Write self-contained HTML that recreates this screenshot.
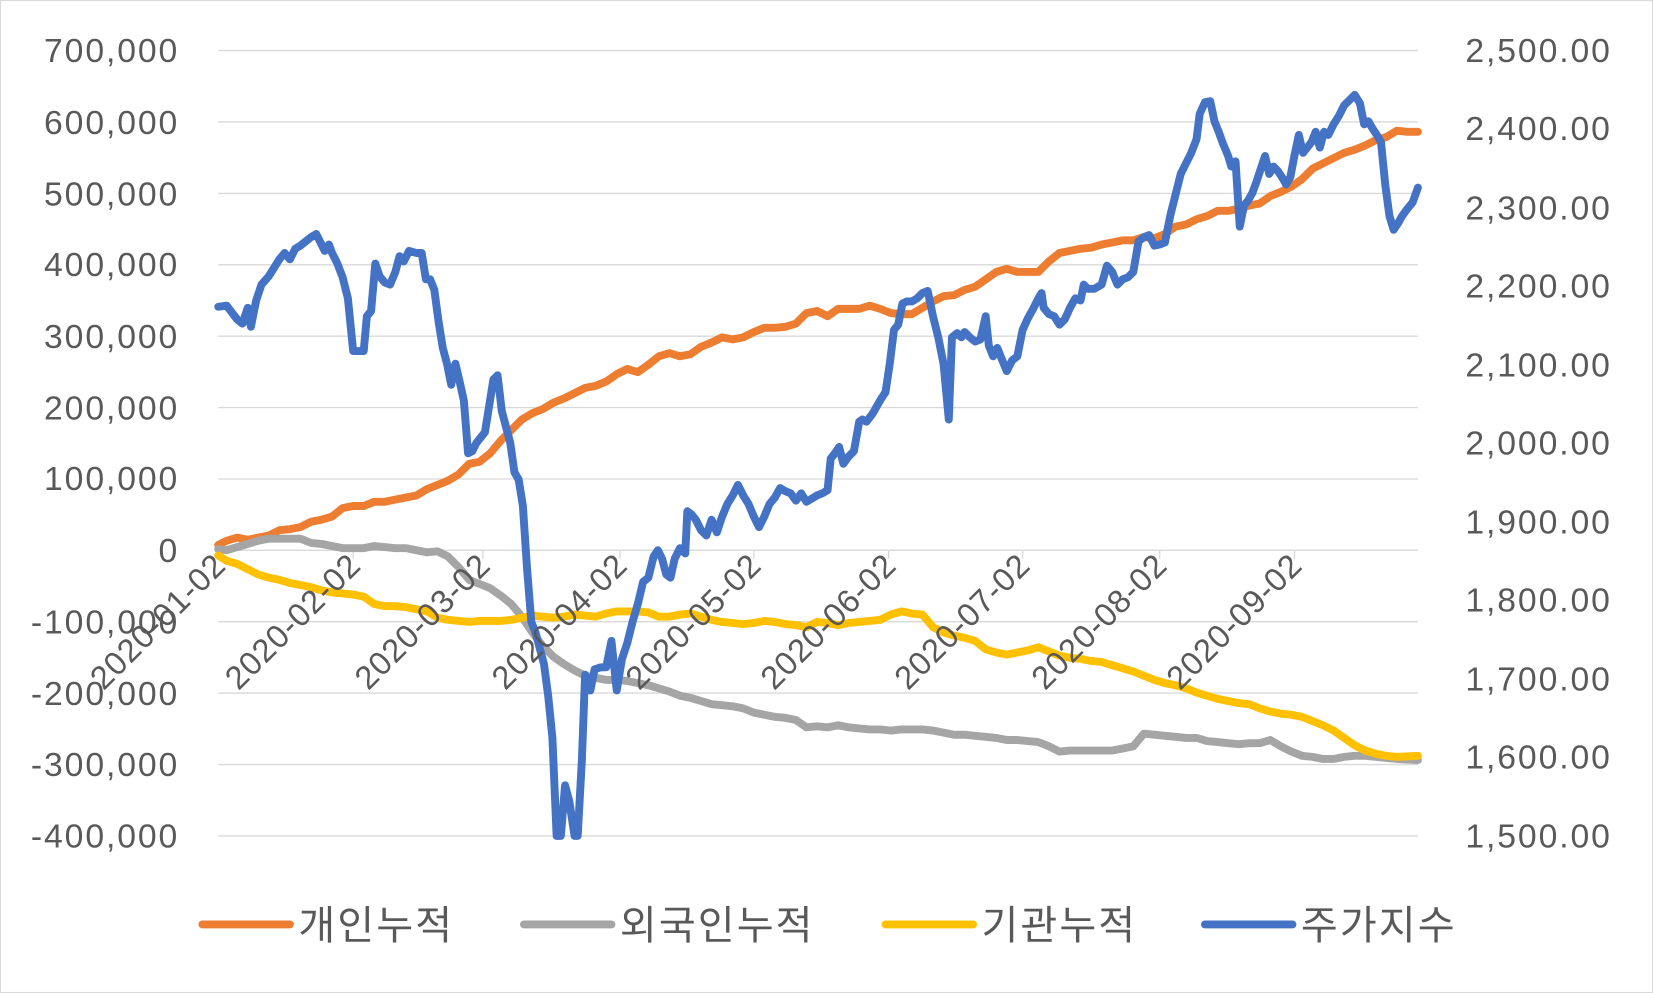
<!DOCTYPE html>
<html><head><meta charset="utf-8"><style>
html,body{margin:0;padding:0;background:#fff;}
svg{display:block;}
text{font-family:"Liberation Sans","Noto Sans CJK KR",sans-serif;fill:#595959;}
</style></head><body>
<svg width="1653" height="993" viewBox="0 0 1568 942" preserveAspectRatio="none" xmlns="http://www.w3.org/2000/svg">
<rect x="0.5" y="0.5" width="1567" height="941" fill="#fff" stroke="#d9d9d9"/>
<g stroke="#d9d9d9" stroke-width="1.3">
<line x1="207" x2="1345" y1="48" y2="48"/><line x1="207" x2="1345" y1="115.7" y2="115.7"/>
<line x1="207" x2="1345" y1="183.5" y2="183.5"/><line x1="207" x2="1345" y1="251.2" y2="251.2"/>
<line x1="207" x2="1345" y1="318.9" y2="318.9"/><line x1="207" x2="1345" y1="386.6" y2="386.6"/>
<line x1="207" x2="1345" y1="454.4" y2="454.4"/><line x1="207" x2="1345" y1="522" y2="522"/>
<line x1="207" x2="1345" y1="589.8" y2="589.8"/><line x1="207" x2="1345" y1="657.5" y2="657.5"/>
<line x1="207" x2="1345" y1="725.3" y2="725.3"/><line x1="207" x2="1345" y1="793" y2="793"/>
<line x1="207" x2="207" y1="522" y2="530"/><line x1="335" x2="335" y1="522" y2="530"/>
<line x1="458" x2="458" y1="522" y2="530"/><line x1="588" x2="588" y1="522" y2="530"/>
<line x1="715" x2="715" y1="522" y2="530"/><line x1="843" x2="843" y1="522" y2="530"/>
<line x1="970" x2="970" y1="522" y2="530"/><line x1="1100" x2="1100" y1="522" y2="530"/>
<line x1="1228" x2="1228" y1="522" y2="530"/>
</g>
<g font-size="32" letter-spacing="1.8" text-anchor="end">
<text x="170" y="59">700,000</text><text x="170" y="127">600,000</text><text x="170" y="195">500,000</text>
<text x="170" y="262">400,000</text><text x="170" y="330">300,000</text><text x="170" y="398">200,000</text>
<text x="170" y="465">100,000</text><text x="170" y="533">0</text><text x="170" y="601">-100,000</text>
<text x="170" y="669">-200,000</text><text x="170" y="736">-300,000</text><text x="170" y="804">-400,000</text>
</g>
<g font-size="32" letter-spacing="1.8" text-anchor="start">
<text x="1390" y="59">2,500.00</text><text x="1390" y="133">2,400.00</text><text x="1390" y="208">2,300.00</text>
<text x="1390" y="282">2,200.00</text><text x="1390" y="357">2,100.00</text><text x="1390" y="431">2,000.00</text>
<text x="1390" y="506">1,900.00</text><text x="1390" y="580">1,800.00</text><text x="1390" y="655">1,700.00</text>
<text x="1390" y="729">1,600.00</text><text x="1390" y="804">1,500.00</text>
</g>
<g fill="none" stroke-width="7.5" stroke-linejoin="round" stroke-linecap="round">
<polyline stroke="#ed7d31" points="207,517 215,513 225,510 235,512 245,510 255,508 265,503 275,502 285,500 295,495 305,493 315,490 325,482 335,480 345,480 355,476 365,476 375,474 385,472 395,470 405,464 415,460 425,456 435,450 445,440 455,438 465,430 475,418 485,408 495,398 505,392 515,388 525,382 535,378 545,373 555,368 565,366 575,362 585,355 595,350 605,353 615,346 625,338 635,335 645,338 655,336 665,329 675,325 685,320 695,322 705,320 715,315 725,311 735,311 745,310 755,307 765,297 775,295 785,300 795,293 805,293 815,293 825,290 835,293 845,297 855,298 865,298 875,292 885,286 895,281 905,280 915,275 925,272 935,265 945,258 955,255 965,258 975,258 985,258 995,248 1005,240 1015,238 1025,236 1035,235 1045,232 1055,230 1065,228 1075,228 1085,225 1095,226 1105,222 1115,215 1125,213 1135,208 1145,205 1155,200 1165,200 1175,198 1185,195 1195,193 1205,186 1215,182 1225,177 1235,170 1245,160 1255,155 1265,150 1275,145 1285,142 1295,138 1305,133 1315,130 1325,124 1335,125 1345,125"/>
<polyline stroke="#a5a5a5" points="207,521 215,522 225,519 235,516 245,513 255,511 265,511 275,511 285,511 295,515 305,516 315,518 325,520 335,520 345,520 355,518 365,519 375,520 385,520 395,522 405,524 415,523 425,528 435,538 445,550 455,554 465,558 475,565 485,573 495,585 505,600 515,613 525,623 535,630 545,636 555,641 565,643 575,645 585,645 595,646 605,648 615,650 625,653 635,656 645,660 655,662 665,665 675,668 685,669 695,670 705,672 715,676 725,678 735,680 745,681 755,683 765,690 775,689 785,690 795,688 805,690 815,691 825,692 835,692 845,693 855,692 865,692 875,692 885,693 895,695 905,697 915,697 925,698 935,699 945,700 955,702 965,702 975,703 985,704 995,708 1005,713 1015,712 1025,712 1035,712 1045,712 1055,712 1065,710 1075,708 1085,696 1095,697 1105,698 1115,699 1125,700 1135,700 1145,703 1155,704 1165,705 1175,706 1185,705 1195,705 1205,702 1215,708 1225,713 1235,717 1245,718 1255,720 1265,720 1275,718 1285,717 1295,717 1305,718 1315,719 1325,720 1345,721"/>
<polyline stroke="#ffc000" points="207,527 215,532 225,535 235,540 245,545 255,548 265,550 275,553 285,555 295,557 305,560 315,562 325,563 335,564 345,566 355,573 365,575 375,575 385,576 395,578 405,580 415,586 425,588 435,589 445,590 455,589 465,589 475,589 485,588 495,586 505,584 515,585 525,586 535,585 545,583 555,584 565,585 575,582 585,580 595,580 605,580 615,581 625,585 635,585 645,583 655,582 665,585 675,588 685,590 695,591 705,592 715,591 725,589 735,590 745,592 755,593 765,595 775,590 785,591 795,593 805,591 815,590 825,589 835,588 845,583 855,580 865,582 875,583 885,595 895,600 905,603 915,605 925,608 935,616 945,619 955,621 965,619 975,617 985,614 995,618 1005,622 1015,624 1025,625 1035,627 1045,628 1055,631 1065,634 1075,637 1085,641 1095,645 1105,648 1115,650 1125,653 1135,657 1145,660 1155,663 1165,665 1175,667 1185,668 1195,672 1205,675 1215,677 1225,678 1235,680 1245,684 1255,688 1265,693 1275,700 1285,707 1295,712 1305,715 1315,717 1325,718 1345,717"/>
<polyline stroke="#4472c4" points="207,291 215,290 225,303 230,307 235,292 238,310 243,285 248,270 255,262 260,254 265,246 270,240 275,246 280,236 285,233 290,229 295,225 300,222 305,232 308,238 312,232 315,240 320,250 325,263 330,283 335,333 340,333 345,333 348,300 352,295 356,250 360,262 365,268 370,270 375,258 379,243 383,248 388,238 395,240 400,240 404,265 408,265 412,275 416,305 420,330 424,345 428,365 432,345 436,362 440,380 444,430 448,428 452,420 456,415 460,410 464,385 468,360 472,356 476,390 480,405 484,420 488,448 492,455 496,480 500,540 504,590 508,600 512,615 516,630 520,660 524,700 528,793 532,793 536,745 540,760 545,793 548,793 552,720 555,640 560,655 564,635 570,633 575,633 580,608 585,655 590,625 595,610 600,590 605,573 610,552 615,548 620,528 624,522 628,530 632,545 636,548 640,530 645,520 650,525 652,485 656,488 660,493 665,503 670,508 675,493 680,505 685,490 690,478 695,470 700,460 705,470 710,478 715,490 720,500 725,490 730,478 735,472 740,463 745,466 750,468 755,475 760,468 765,476 770,473 775,470 780,468 785,465 788,435 792,430 796,424 800,440 805,433 810,428 815,400 818,398 822,400 828,392 832,385 836,378 840,372 844,345 848,313 852,308 856,288 860,286 865,286 870,283 875,278 880,276 885,300 890,320 895,345 900,398 903,320 908,316 912,320 915,315 920,320 925,324 930,322 935,300 938,328 942,338 946,330 950,340 955,352 960,342 965,338 970,313 975,302 980,293 985,283 988,278 990,292 995,298 1000,300 1005,308 1010,303 1015,292 1020,283 1025,285 1028,270 1032,274 1038,274 1045,270 1050,252 1055,258 1060,270 1065,265 1070,263 1075,258 1080,229 1085,225 1090,223 1095,233 1100,232 1105,230 1110,205 1115,185 1120,165 1125,155 1130,145 1135,132 1138,108 1143,97 1148,96 1152,115 1156,125 1160,136 1165,148 1168,158 1172,153 1176,215 1180,195 1184,190 1188,183 1192,172 1196,160 1200,148 1204,165 1208,158 1212,162 1216,168 1220,175 1224,168 1228,147 1232,128 1236,145 1240,140 1244,135 1248,125 1252,140 1256,125 1260,128 1265,118 1270,110 1275,100 1280,95 1285,90 1290,98 1294,118 1298,115 1302,122 1306,128 1310,135 1314,175 1318,205 1322,218 1326,212 1330,205 1335,198 1340,192 1345,178"/>
</g>
<g font-size="31" letter-spacing="0.8" text-anchor="end">
<text transform="translate(216,538) rotate(-45)">2020-01-02</text>
<text transform="translate(344,538) rotate(-45)">2020-02-02</text>
<text transform="translate(467,538) rotate(-45)">2020-03-02</text>
<text transform="translate(597,538) rotate(-45)">2020-04-02</text>
<text transform="translate(724,538) rotate(-45)">2020-05-02</text>
<text transform="translate(852,538) rotate(-45)">2020-06-02</text>
<text transform="translate(979,538) rotate(-45)">2020-07-02</text>
<text transform="translate(1109,538) rotate(-45)">2020-08-02</text>
<text transform="translate(1237,538) rotate(-45)">2020-09-02</text>
</g>
<g stroke-width="7.5" stroke-linecap="round">
<line x1="192" x2="275" y1="877" y2="877" stroke="#ed7d31"/>
<line x1="497" x2="580" y1="877" y2="877" stroke="#a5a5a5"/>
<line x1="840" x2="923" y1="877" y2="877" stroke="#ffc000"/>
<line x1="1143" x2="1226" y1="877" y2="877" stroke="#4472c4"/>
</g>
<g font-size="38" letter-spacing="2">
<text x="283" y="891">개인누적</text>
<text x="588" y="891">외국인누적</text>
<text x="931" y="891">기관누적</text>
<text x="1234" y="891">주가지수</text>
</g>
</svg>
</body></html>
